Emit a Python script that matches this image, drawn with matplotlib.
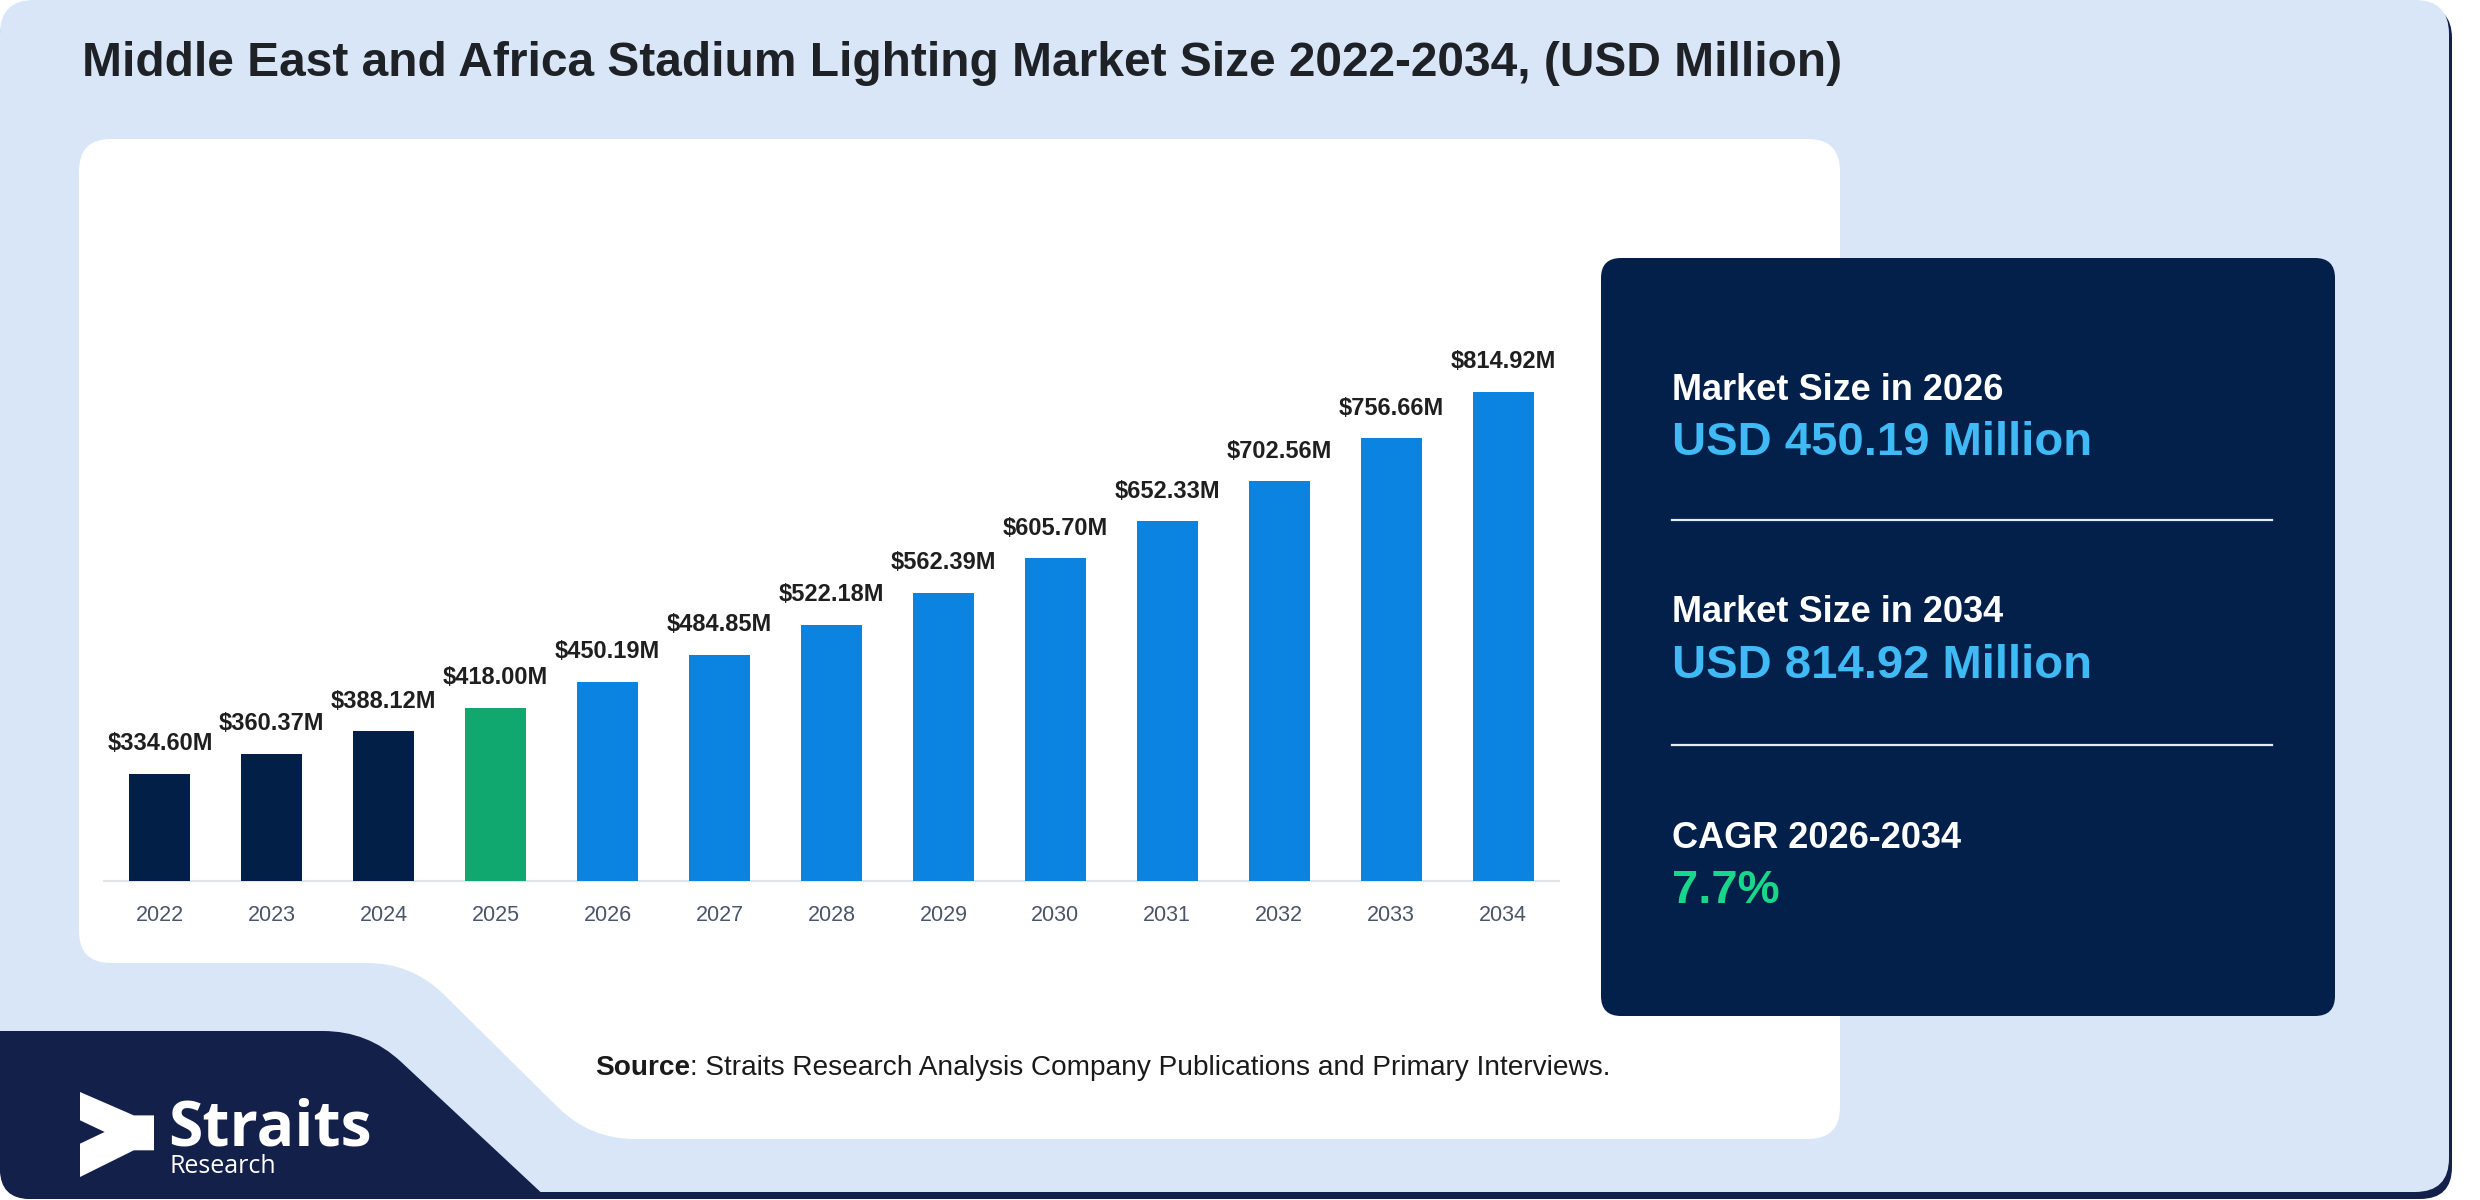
import numpy as np
import matplotlib
matplotlib.use("Agg")
import matplotlib.pyplot as plt
from matplotlib.path import Path
from matplotlib.patches import PathPatch, Polygon

# ---------------- data ----------------
years = ["2022", "2023", "2024", "2025", "2026", "2027", "2028",
         "2029", "2030", "2031", "2032", "2033", "2034"]
values = [334.60, 360.37, 388.12, 418.00, 450.19, 484.85, 522.18,
          562.39, 605.70, 652.33, 702.56, 756.66, 814.92]
labels = ["$334.60M", "$360.37M", "$388.12M", "$418.00M", "$450.19M",
          "$484.85M", "$522.18M", "$562.39M", "$605.70M", "$652.33M",
          "$702.56M", "$756.66M", "$814.92M"]
bar_colors = ["#021f48"] * 3 + ["#10a86f"] + ["#0a84e0"] * 9

title = "Middle East and Africa Stadium Lighting Market Size 2022-2034, (USD Million)"
panel_heads = ["Market Size in 2026", "Market Size in 2034", "CAGR 2026-2034"]
panel_vals = ["USD 450.19 Million", "USD 814.92 Million", "7.7%"]
panel_val_colors = ["#3fbaf4", "#3fbaf4", "#18d68a"]
source_bold = "Source"
source_rest = ": Straits Research Analysis Company Publications and Primary Interviews."

plt.rcParams['font.family'] = ['Liberation Sans', 'DejaVu Sans']

W, H = 2480, 1200
fig = plt.figure(figsize=(W / 100, H / 100), dpi=100)
fig.patch.set_facecolor("white")

bg = fig.add_axes([0, 0, 1, 1], zorder=0)
bg.set_xlim(0, W)
bg.set_ylim(H, 0)
bg.axis("off")


def rounded_path(verts, radii):
    n = len(verts)
    pts, codes = [], []
    for i in range(n):
        p0 = np.array(verts[i - 1], float)
        p1 = np.array(verts[i], float)
        p2 = np.array(verts[(i + 1) % n], float)
        r = radii[i]
        d1 = (p0 - p1) / np.linalg.norm(p0 - p1)
        d2 = (p2 - p1) / np.linalg.norm(p2 - p1)
        a = p1 + d1 * r
        b = p1 + d2 * r
        pts.append(a)
        codes.append(Path.MOVETO if i == 0 else Path.LINETO)
        pts += [p1, b]
        codes += [Path.CURVE3, Path.CURVE3]
    pts.append(pts[0])
    codes.append(Path.CLOSEPOLY)
    return Path(pts, codes)


def shape(verts, radii, color, z):
    bg.add_patch(PathPatch(rounded_path(verts, radii), facecolor=color,
                           edgecolor="none", zorder=z))


NAVY_DARK = "#13204a"
LIGHT = "#d9e6f8"
# background card with dark bottom shadow
shape([(0, 6), (2452, 6), (2452, 1199), (0, 1199)], [32, 32, 32, 32], NAVY_DARK, 1)
shape([(0, 0), (2449, 0), (2449, 1192), (0, 1192)], [34, 34, 34, 34], LIGHT, 2)
# bottom-left navy band
shape([(0, 1031), (368, 1031), (548, 1199), (0, 1199)], [0, 45, 0, 30], NAVY_DARK, 3)
# white chart panel with notch
shape([(79, 139), (1840, 139), (1840, 1139), (590, 1139), (412, 963), (79, 963)],
      [32, 32, 32, 45, 45, 32], "white", 4)
# right info panel
shape([(1601, 258), (2335, 258), (2335, 1016), (1601, 1016)], [20, 20, 20, 20], "#02204a", 5)

# logo icon
ix0, iy0, iw, ih = 80, 1092, 74, 85
icon_norm = [(0, 0), (0.727, 0.275), (1.0, 0.275), (1.0, 0.686), (0.727, 0.686),
             (0, 1.0), (0, 0.608), (0.333, 0.47), (0, 0.333)]
bg.add_patch(Polygon([(ix0 + u * iw, iy0 + v * ih) for u, v in icon_norm],
                     closed=True, facecolor="white", edgecolor="none", zorder=6))
bg.text(168, 1145, "Straits", color="white", fontsize=45, fontweight="bold",
        family=["Open Sans", "DejaVu Sans"], ha="left", va="baseline", zorder=6)
bg.text(170, 1173, "Research", color="white", fontsize=18,
        family=["Open Sans", "DejaVu Sans"], ha="left", va="baseline", zorder=6)

# title
bg.text(82, 63, title, fontsize=34.5, fontweight="bold", color="#1e2126",
        ha="left", va="center", zorder=6)

# source
t1 = bg.text(595, 1068, source_bold, fontsize=20.2, fontweight="bold", color="#1a1a1a",
             ha="left", va="center", zorder=6)
bg.annotate(source_rest, xy=(1, 0), xycoords=t1, fontsize=20.2, color="#1a1a1a",
            ha="left", va="bottom", zorder=6)

# right panel texts
head_y = [390, 613, 838]
val_y = [443, 666, 891]
for h, v, c, hy, vy in zip(panel_heads, panel_vals, panel_val_colors, head_y, val_y):
    bg.text(1672, hy, h, fontsize=26, fontweight="bold", color="white",
            ha="left", va="center", zorder=6)
    bg.text(1672, vy, v, fontsize=34, fontweight="bold", color=c,
            ha="left", va="center", zorder=6)
for ly in [520, 745]:
    bg.plot([1672, 2272], [ly, ly], color="#e6ecf5", lw=1.6, zorder=6)

# ---------------- bar chart ----------------
ax = fig.add_axes([104 / W, 319 / H, 1455 / W, 556.5 / H], zorder=2)
ax.set_facecolor("none")
x = np.arange(len(years))
ax.bar(x, values, width=0.545, color=bar_colors, zorder=3)
ax.set_xlim(-0.5, len(years) - 0.5)
ax.set_ylim(200, 900)
for s in ["top", "right", "left"]:
    ax.spines[s].set_visible(False)
ax.spines["bottom"].set_color("#e0e3e8")
ax.spines["bottom"].set_linewidth(1.5)
ax.set_yticks([])
ax.set_xticks(x)
ax.set_xticklabels(years, fontsize=15.5, color="#4a5568")
ax.tick_params(axis="x", length=0, pad=17.5)
for xi, v, lab in zip(x, values, labels):
    ax.annotate(lab, xy=(xi, v), xytext=(0, 13.5), textcoords="offset points",
                ha="center", va="bottom", fontsize=17, fontweight="bold",
                color="#1f1f1f")

fig.savefig("out.png", dpi=100)
